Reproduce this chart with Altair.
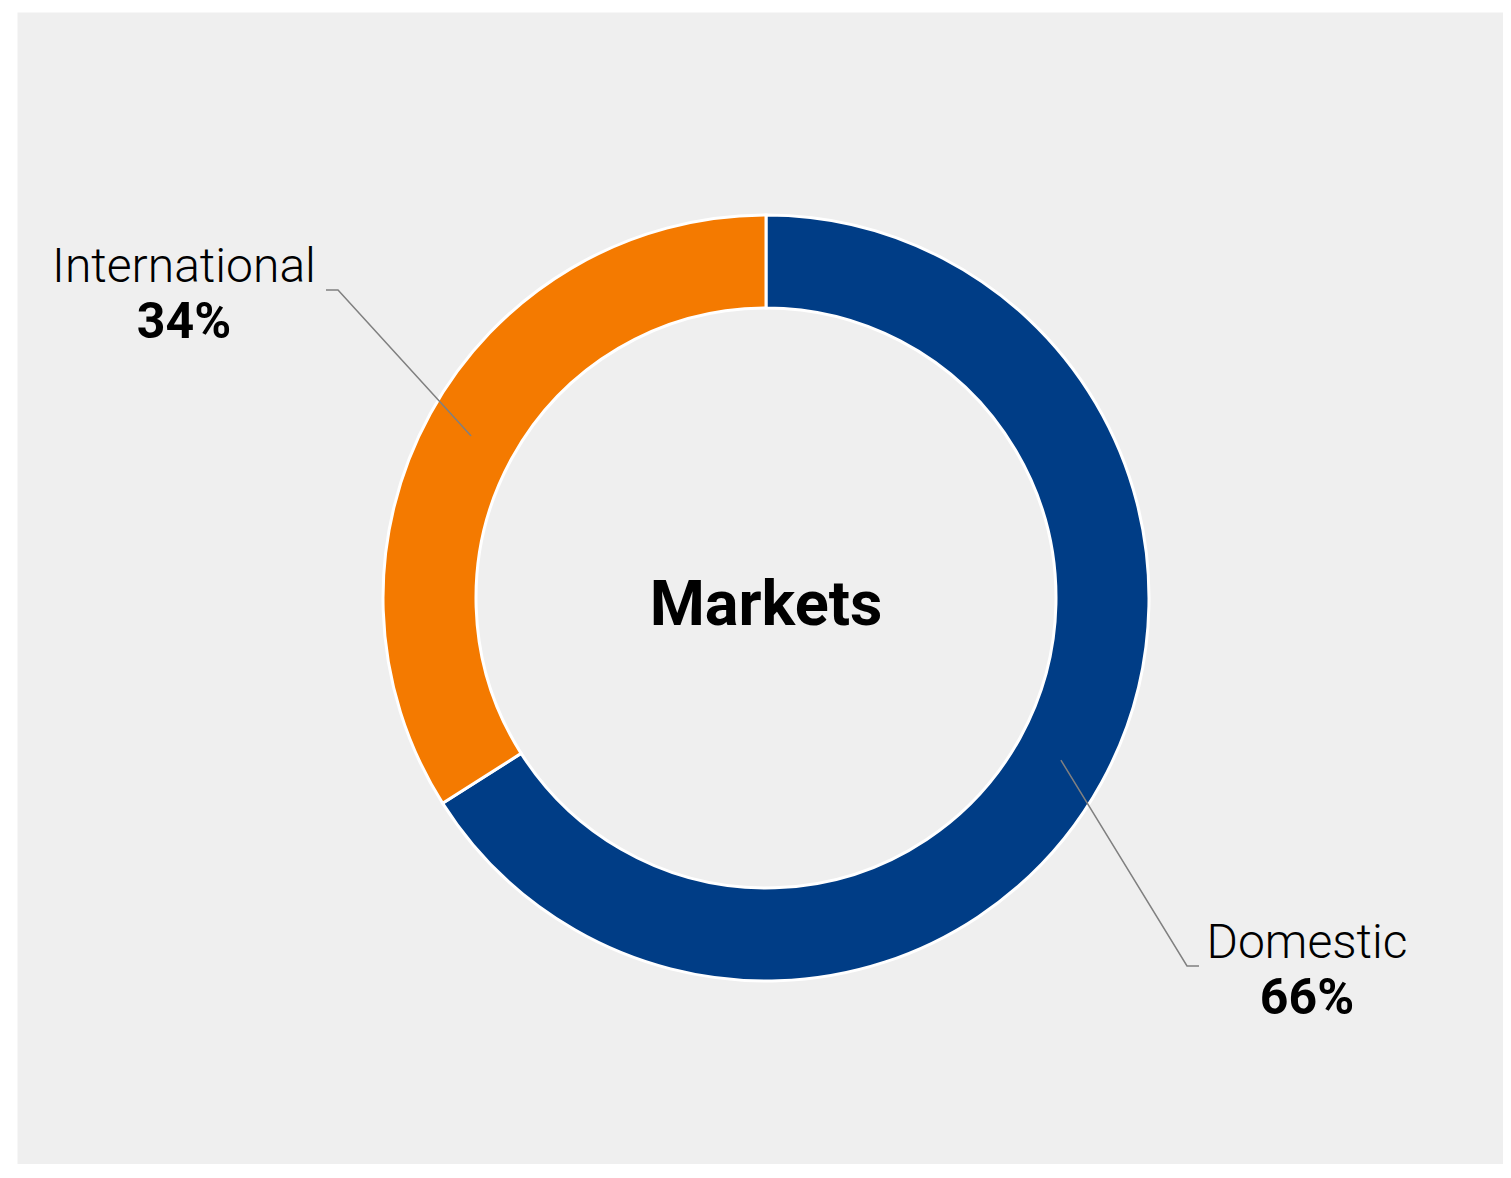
import math
import altair as alt
import pandas as pd

# ---- data ----
categories = ["Domestic", "International"]
shares = [66, 34]
colors = ["#003d86", "#f47a00"]
center_title = "Markets"

# ---- layout ----
W, H = 1486, 1152
CX, CY = 749, 586
R_OUT, R_IN = 383, 290
R_MID = (R_OUT + R_IN) / 2
FONT = "Roboto"

total = sum(shares)
rows = []
cum = 0
for i, (c, v) in enumerate(zip(categories, shares)):
    mid = (cum + v / 2) / total * 2 * math.pi
    cum += v
    rows.append({"category": c, "value": v, "order": i, "mid": mid})
arc_df = pd.DataFrame(rows)

# label layout (elbow points and label anchors, plot coordinates)
layout = {
    "International": {"elbow": (321, 278), "end": (309, 278), "lx": 167, "ly1": 270, "ly2": 326},
    "Domestic": {"elbow": (1170, 954), "end": (1182, 954), "lx": 1290, "ly1": 946, "ly2": 1002},
}

line_rows, label_rows = [], []
for r in rows:
    L = layout[r["category"]]
    sx = CX + R_MID * math.sin(r["mid"])
    sy = CY - R_MID * math.cos(r["mid"])
    pts = [(sx, sy), L["elbow"], L["end"]]
    for k, (px, py) in enumerate(pts):
        line_rows.append({"category": r["category"], "k": k, "px": px, "py": py})
    label_rows.append({"category": r["category"], "px": L["lx"], "py": L["ly1"], "txt": r["category"]})
    label_rows.append({"category": r["category"], "px": L["lx"], "py": L["ly2"], "pct": f"{r['value']}%"})
line_df = pd.DataFrame(line_rows)
name_df = pd.DataFrame([d for d in label_rows if "txt" in d])
pct_df = pd.DataFrame([d for d in label_rows if "pct" in d])
title_df = pd.DataFrame([{"px": CX, "py": 613, "txt": center_title}])

xs = alt.Scale(domain=[0, W], range=[0, W], nice=False, zero=False)
ys = alt.Scale(domain=[0, H], range=[0, H], nice=False, zero=False)

arcs = alt.Chart(arc_df).mark_arc(
    outerRadius=R_OUT, innerRadius=R_IN, stroke="white", strokeWidth=3
).encode(
    theta=alt.Theta("value:Q", stack=True),
    order=alt.Order("order:Q"),
    color=alt.Color("category:N", scale=alt.Scale(domain=categories, range=colors), legend=None),
    x=alt.value(CX),
    y=alt.value(CY),
)

lines = alt.Chart(line_df).mark_line(color="#808080", strokeWidth=1.5).encode(
    x=alt.X("px:Q", scale=xs, axis=None),
    y=alt.Y("py:Q", scale=ys, axis=None),
    detail="category:N",
    order="k:Q",
)

names = alt.Chart(name_df).mark_text(
    font=FONT, fontSize=48, fontWeight=300, color="#000000", align="center", baseline="alphabetic"
).encode(
    x=alt.X("px:Q", scale=xs, axis=None),
    y=alt.Y("py:Q", scale=ys, axis=None),
    text="txt:N",
)

pcts = alt.Chart(pct_df).mark_text(
    font=FONT, fontSize=50, fontWeight="bold", color="#000000", align="center", baseline="alphabetic"
).encode(
    x=alt.X("px:Q", scale=xs, axis=None),
    y=alt.Y("py:Q", scale=ys, axis=None),
    text="pct:N",
)

title = alt.Chart(title_df).mark_text(
    font=FONT, fontSize=63, fontWeight="bold", color="#000000", align="center", baseline="alphabetic"
).encode(
    x=alt.X("px:Q", scale=xs, axis=None),
    y=alt.Y("py:Q", scale=ys, axis=None),
    text="txt:N",
)

chart = alt.layer(arcs, lines, names, pcts, title).properties(
    width=W, height=H,
    padding={"left": 9, "top": 4, "right": 0, "bottom": 0},
    background="white",
).configure_view(fill="#efefef", strokeOpacity=0)

chart.save("out.html", embed_options={"renderer": "svg", "actions": False})
